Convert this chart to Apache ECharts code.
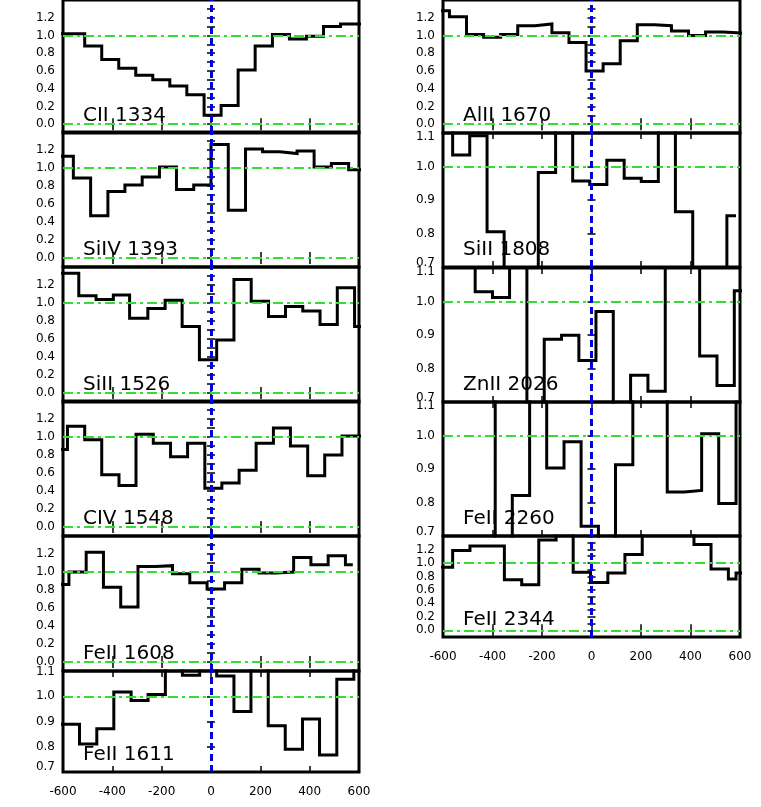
<!DOCTYPE html>
<html>
<head>
<meta charset="utf-8">
<script src="https://cdn.jsdelivr.net/npm/echarts@6/dist/echarts.min.js"></script>
<style>
html,body{margin:0;padding:0;background:#fff;}
#chart{width:761px;height:807px;}
</style>
</head>
<body>
<div id="chart"></div>
<script>
// ---- data: bin edges (km/s) and normalised flux per bin ----
const VEL_CII_1334  = [-650, -512, -443, -374, -305, -236, -167, -98, -28, 41, 110, 179, 249, 318, 387, 456, 525, 650];
const FLUX_CII_1334 = [1.02, 0.88, 0.73, 0.63, 0.55, 0.50, 0.43, 0.33, 0.10, 0.21, 0.61, 0.88, 1.01, 0.96, 0.99, 1.10, 1.13];

const VEL_SIIV_1393  = [-650, -558, -488, -418, -349, -279, -209, -140, -70, 0, 70, 140, 209, 279, 349, 418, 488, 558, 650];
const FLUX_SIIV_1393 = [1.13, 0.89, 0.47, 0.74, 0.81, 0.90, 1.01, 0.76, 0.81, 1.26, 0.53, 1.21, 1.18, 1.16, 1.19, 1.01, 1.05, 0.98];

const VEL_SIII_1526  = [-650, -536, -466, -396, -330, -256, -186, -117, -47, 23, 93, 163, 233, 302, 372, 442, 512, 582, 650];
const FLUX_SIII_1526 = [1.33, 1.08, 1.04, 1.09, 0.83, 0.94, 1.03, 0.74, 0.37, 0.59, 1.26, 1.02, 0.85, 0.96, 0.91, 0.76, 1.17, 0.74];

const VEL_CIV_1548  = [-650, -582, -512, -443, -373, -304, -234, -164, -95, -25, 44, 114, 183, 253, 322, 392, 461, 531, 650];
const FLUX_CIV_1548 = [0.86, 1.12, 0.97, 0.58, 0.46, 1.03, 0.93, 0.78, 0.93, 0.43, 0.49, 0.63, 0.93, 1.10, 0.90, 0.57, 0.80, 1.01];

const VEL_FEII_1608  = [-650, -576, -506, -436, -366, -296, -226, -156, -86, -16, 55, 125, 195, 265, 335, 405, 475, 545, 575];
const FLUX_FEII_1608 = [0.86, 1.00, 1.22, 0.83, 0.61, 1.06, 1.07, 0.98, 0.88, 0.81, 0.88, 1.03, 0.99, 1.00, 1.16, 1.08, 1.18, 1.08];

const VEL_FEII_1611  = [-650, -533, -463, -394, -324, -255, -185, -116, -46, 23, 93, 162, 232, 301, 371, 440, 510, 579, 650];
const FLUX_FEII_1611 = [0.889, 0.811, 0.871, 1.017, 0.983, 1.007, 1.20, 1.083, 1.20, 1.080, 0.940, 1.20, 0.883, 0.790, 0.910, 0.767, 1.067, 1.20];

const VEL_ALII_1670  = [-650, -574, -505, -436, -367, -298, -229, -160, -91, -22, 47, 116, 185, 254, 323, 392, 461, 530, 650];
const FLUX_ALII_1670 = [1.28, 1.21, 1.01, 0.98, 1.01, 1.11, 1.13, 1.03, 0.92, 0.60, 0.68, 0.94, 1.12, 1.11, 1.05, 1.00, 1.04, 1.02];

const VEL_SIII_1808  = [-650, -561, -492, -422, -353, -284, -215, -145, -76, -7, 62, 132, 201, 270, 339, 409, 478, 547, 584];
const FLUX_SIII_1808 = [1.20, 1.034, 1.092, 0.805, 0.60, 0.60, 0.982, 1.20, 0.957, 0.946, 1.019, 0.965, 0.955, 1.20, 0.865, 0.60, 0.60, 0.853];

const VEL_ZNII_2026  = [-650, -540, -470, -400, -331, -261, -191, -121, -51, 18, 88, 158, 228, 298, 368, 437, 507, 577, 650];
const FLUX_ZNII_2026 = [1.20, 1.20, 1.029, 1.012, 1.20, 0.60, 0.887, 0.899, 0.824, 0.970, 0.60, 0.780, 0.732, 1.20, 1.20, 0.837, 0.749, 1.032];

const VEL_FEII_2260  = [-650, -528, -459, -389, -320, -250, -181, -111, -42, 28, 97, 167, 236, 306, 375, 445, 514, 584, 650];
const FLUX_FEII_2260 = [1.20, 1.20, 1.20, 0.60, 0.821, 1.20, 0.903, 0.981, 0.729, 0.60, 0.913, 1.20, 1.20, 0.831, 0.836, 1.005, 0.797, 1.20];

const VEL_FEII_2344  = [-650, -561, -491, -422, -352, -282, -213, -143, -74, -4, 66, 135, 205, 274, 344, 414, 483, 553, 584, 650];
const FLUX_FEII_2344 = [0.935, 1.185, 1.25, 1.25, 0.75, 0.675, 1.34, 1.45, 0.86, 0.71, 0.85, 1.125, 1.45, 1.45, 1.45, 1.275, 0.91, 0.76, 0.85];

const X_TICKS = [-600, -400, -200, 0, 200, 400, 600];
const RANGE_FULL   = [-0.1, 1.4];
const RANGE_NARROW = [0.7, 1.1];

// ---- layout ----
const panels = [
  {name:'CII 1334',  v:VEL_CII_1334,  f:FLUX_CII_1334,  left:63,  width:296, top:-2,  height:135, r:RANGE_FULL,   xl:false},
  {name:'SiIV 1393', v:VEL_SIIV_1393, f:FLUX_SIIV_1393, left:63,  width:296, top:132, height:135, r:RANGE_FULL,   xl:false},
  {name:'SiII 1526', v:VEL_SIII_1526, f:FLUX_SIII_1526, left:63,  width:296, top:267, height:135, r:RANGE_FULL,   xl:false},
  {name:'CIV 1548',  v:VEL_CIV_1548,  f:FLUX_CIV_1548,  left:63,  width:296, top:401, height:135, r:RANGE_FULL,   xl:false},
  {name:'FeII 1608', v:VEL_FEII_1608, f:FLUX_FEII_1608, left:63,  width:296, top:536, height:135, r:RANGE_FULL,   xl:false},
  {name:'FeII 1611', v:VEL_FEII_1611, f:FLUX_FEII_1611, left:63,  width:296, top:671, height:101, r:RANGE_NARROW, xl:true},
  {name:'AlII 1670', v:VEL_ALII_1670, f:FLUX_ALII_1670, left:443, width:297, top:-2,  height:135, r:RANGE_FULL,   xl:false},
  {name:'SiII 1808', v:VEL_SIII_1808, f:FLUX_SIII_1808, left:443, width:297, top:133, height:134, r:RANGE_NARROW, xl:false},
  {name:'ZnII 2026', v:VEL_ZNII_2026, f:FLUX_ZNII_2026, left:443, width:297, top:268, height:134, r:RANGE_NARROW, xl:false},
  {name:'FeII 2260', v:VEL_FEII_2260, f:FLUX_FEII_2260, left:443, width:297, top:402, height:134, r:RANGE_NARROW, xl:false},
  {name:'FeII 2344', v:VEL_FEII_2344, f:FLUX_FEII_2344, left:443, width:297, top:536, height:101, r:RANGE_FULL,   xl:true}
];

const FONT = 'DejaVu Sans';
const LBL = {fontSize:12, fontFamily:FONT, color:'#000'};
const grid = [], xAxis = [], yAxis = [], series = [], graphic = [];

panels.forEach((p, i) => {
  grid.push({left:p.left, top:p.top, width:p.width, height:p.height,
    show:true, borderColor:'#000', borderWidth:3, backgroundColor:'transparent'});
  const xBase = {gridIndex:i, type:'value', min:X_TICKS[0], max:X_TICKS[X_TICKS.length-1], interval:200,
    axisLine:{show:false}, splitLine:{show:false},
    axisTick:{show:true, inside:true, length:6, lineStyle:{color:'#000', width:1.5}}};
  xAxis.push(Object.assign({}, xBase, {position:'bottom',
    axisLabel:{show:p.xl, margin:14, color:'#000', fontSize:12, fontFamily:FONT,
      formatter:v => String(Math.round(v))}}));
  xAxis.push(Object.assign({}, xBase, {position:'top', axisLabel:{show:false}}));

  const full = p.r === RANGE_FULL;
  const lowShift = p.height < 110 ? 'lo2' : 'lo';
  const fmt = v => {
    const k = Math.round(v * 10);
    if (full) return (k >= 0 && k <= 12 && k % 2 === 0) ? (k / 10).toFixed(1) : '';
    if (k === 7) return '{' + lowShift + '|0.7}';
    if (k === 11) return '{' + (p.height < 110 ? 'hi2' : 'hi') + '|1.1}';
    return (k >= 8 && k <= 10) ? (k / 10).toFixed(1) : '';
  };
  const yBase = {gridIndex:i, type:'value', min:p.r[0], max:p.r[1], interval:0.1,
    axisLine:{show:false}, splitLine:{show:false},
    axisTick:{show:true, inside:true, length:4, lineStyle:{color:'#000', width:1.5}}};
  yAxis.push(Object.assign({}, yBase, {position:'left',
    axisLabel:{show:true, margin:8, color:'#000', fontSize:12, fontFamily:FONT, formatter:fmt,
      showMinLabel:true, showMaxLabel:true,
      rich:{
        lo:Object.assign({padding:[0,0,9,0]}, LBL),
        lo2:Object.assign({padding:[0,0,10,0]}, LBL),
        hi:Object.assign({padding:[8,0,0,0]}, LBL),
        hi2:Object.assign({padding:[2,0,0,0]}, LBL)
      }}}));
  yAxis.push(Object.assign({}, yBase, {position:'right', axisLabel:{show:false}}));

  const data = p.v.map((e, k) => [e, p.f[Math.min(k, p.f.length - 1)]]);
  series.push({type:'line', xAxisIndex:2*i, yAxisIndex:2*i, data:data, step:'end',
    showSymbol:false, symbol:'none', clip:true, z:3, animation:false,
    lineStyle:{color:'#000', width:3, join:'miter', cap:'butt'}});

  const ml = [{yAxis:1.0, lineStyle:{color:'#33dd33', width:2, type:[10,4,3,4]}}];
  if (full) ml.push({yAxis:0.0, lineStyle:{color:'#33dd33', width:2, type:[10,4,3,4]}});
  ml.push({xAxis:0, lineStyle:{color:'#0000dd', width:3, type:[7,4]}});
  series.push({type:'line', xAxisIndex:2*i, yAxisIndex:2*i, data:[], z:5, animation:false,
    markLine:{silent:true, symbol:'none', animation:false, label:{show:false}, data:ml}});

  graphic.push({type:'text', left:p.left + 20, top:p.top + p.height - 27, z:1,
    style:{text:p.name, font:'20px "DejaVu Sans"', fill:'#000'}});
});

const chart = echarts.init(document.getElementById('chart'), null, {renderer:'canvas'});
chart.setOption({backgroundColor:'#fff', animation:false, grid, xAxis, yAxis, series, graphic});
</script>
</body>
</html>
